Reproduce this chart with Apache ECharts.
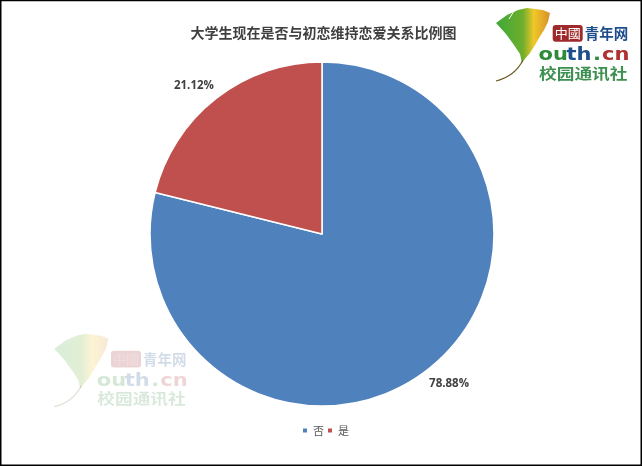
<!DOCTYPE html>
<html><head><meta charset="utf-8">
<style>html,body{margin:0;padding:0;background:#fff}#c{width:642px;height:466px}</style>
<script src="https://cdn.jsdelivr.net/npm/echarts@6/dist/echarts.min.js"></script>
</head><body><div id="c"></div>
<script>
const titleText = '大学生现在是否与初恋维持恋爱关系比例图';
const categories = ['否', '是'];
const values = [78.88, 21.12];
const colors = ['#4F81BD', '#C0504D'];

function logo(x, y, opacity, z) {
  const t = (px, py, sx, cfg) => ({ type: 'text', z, x: px, y: py, scaleX: sx,
    style: Object.assign({ opacity, x: 0, y: 0, verticalAlign: 'middle' }, cfg) });
  const big = 'bold 17.5px "DejaVu Sans"';
  return {
    type: 'group', x, y,
    children: [
      { type: 'polygon', z,
        shape: { points: [[36,23],[47,15],[58,10],[67,8],[75,9],[83,10],[90,13],[88,22],[84,30],[79,38],[75,45],[70,53],[64,60],[62,63],[60,54],[54,45],[46,34]] },
        style: { opacity, fill: { type: 'linear', x: 0, y: 0, x2: 1, y2: 0, colorStops: [
          { offset: 0, color: '#3ea83a' }, { offset: 0.5, color: '#6fae2c' },
          { offset: 0.7, color: '#f0c828' }, { offset: 1, color: '#d8902a' } ] } } },
      { type: 'line', z, shape: { x1: 54, y1: 11, x2: 49, y2: 19 }, style: { opacity, stroke: '#fff', lineWidth: 1 } },
      { type: 'bezierCurve', z,
        shape: { x1: 36, y1: 81, cpx1: 48, cpy1: 78, cpx2: 58, cpy2: 70, x2: 63, y2: 60 },
        style: { opacity, fill: 'none', stroke: '#6a5a20', lineWidth: 1.2 } },
      { type: 'rect', z, shape: { x: 92.7, y: 25, width: 30, height: 16.7, r: 3 }, style: { opacity, fill: '#9E2A2B' } },
      t(107.7, 33.5, 1, { text: '中國', fill: '#fff', font: '13px "Noto Sans CJK TC"', align: 'center' }),
      t(146.5, 33.5, 1, { text: '青年网', fill: '#1F4E8C', font: 'bold 14.5px "Noto Sans CJK SC"', align: 'center' }),
      t(78.5, 55.5, 1.2, { text: 'ou', fill: '#2E8B3A', font: big, align: 'left' }),
      t(106.5, 55.5, 1.2, { text: 'th', fill: '#1F4E8C', font: big, align: 'left' }),
      t(133, 55.5, 1.2, { text: '.', fill: '#2E8B3A', font: big, align: 'left' }),
      t(142, 55.5, 1.2, { text: 'cn', fill: '#B03030', font: big, align: 'left' }),
      t(79, 73, 1.22, { text: '校园通讯社', fill: '#3E9050', font: 'bold 14.5px "Noto Sans CJK SC"', align: 'left' })
    ]
  };
}

const chart = echarts.init(document.getElementById('c'), null, { renderer: 'canvas' });
chart.setOption({
  animation: false,
  backgroundColor: '#fff',
  color: colors,
  title: {
    text: titleText, left: 318.5, top: 21, textAlign: 'center',
    textStyle: { fontFamily: '"Noto Sans CJK SC"', fontSize: 14, fontWeight: 'bold', color: '#404040' }
  },
  legend: {
    data: categories, left: 296, top: 420, itemWidth: 6, itemHeight: 6, itemGap: 2, icon: 'rect',
    textStyle: { fontFamily: '"Noto Sans CJK SC"', fontSize: 11, color: '#595959' }
  },
  graphic: { elements: [
    logo(18.3, 325.7, 0.2, 0),
    logo(460, 0, 1, 0),
    { type: 'rect', z: 100, shape: { x: 0.75, y: 0.5, width: 640.5, height: 464.7 },
      style: { fill: 'none', stroke: '#000', lineWidth: 1.5 } }
  ] },
  series: [{
    type: 'pie', center: [322, 234], radius: [0, 172], startAngle: 90, clockwise: true, z: 5,
    data: categories.map((name, i) => ({ name, value: values[i] })),
    itemStyle: { borderColor: '#fff', borderWidth: 1.5 },
    label: {
      show: true, position: 'outside', formatter: p => p.value.toFixed(2) + '%',
      fontFamily: '"Open Sans"', fontSize: 11.5, fontWeight: 'bold', color: '#404040'
    },
    labelLine: { show: false, length: 10, length2: 6 },
    labelLayout: p => p.dataIndex === 0 ? { dx: -16, dy: 6 } : { dx: 15, dy: -5 },
    emphasis: { disabled: true }
  }]
});
</script></body></html>
